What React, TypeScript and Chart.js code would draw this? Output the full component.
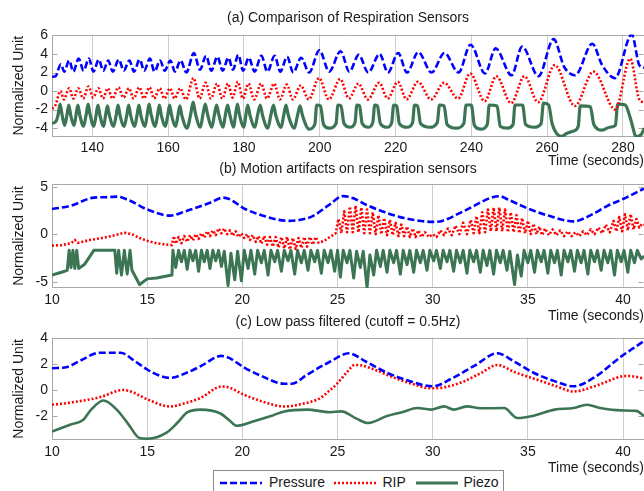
import React, { useEffect, useRef } from 'react';
import { Chart, registerables } from 'chart.js';

Chart.register(...registerables);

const FONT_FAMILY = "'Liberation Sans', Arial, Helvetica, sans-serif";
const TEXT_COLOR = '#1a1a1a';
const GRID_COLOR = '#cdcdcd';
const FRAME_COLOR = '#a8a8a8';
const BLUE = '#0000ff';
const RED = '#ff0000';
const GREEN = '#3b7554';

const SERIES_NAMES = ['Pressure', 'RIP', 'Piezo'];
const PANEL_TITLES = [
  '(a) Comparison of Respiration Sensors',
  '(b) Motion artifacts on respiration sensors',
  '(c) Low pass filtered (cutoff = 0.5Hz)',
];
const X_TITLE = 'Time (seconds)';
const Y_TITLE = 'Normalized Unit';

const xTicksA = [140, 160, 180, 200, 220, 240, 260, 280];
const xTicksBC = [10, 15, 20, 25, 30, 35, 40];
const yTicksA = [-4, -2, 0, 2, 4, 6];
const yTicksB = [-5, 0, 5];
const yTicksC = [-2, 0, 2, 4];

type P = [number, number][];

// ---------- Panel (a) ----------
const aPressure: P = [
  [129.4, 1.55], [130.3, 1.6], [131.7, 2.9], [132.6, 2.1], [133.9, 3.3], [135.0, 2.1], [136.4, 3.5], [137.7, 2.2],
  [139.1, 3.5], [140.3, 2.1], [141.7, 3.4], [142.9, 2.2], [144.2, 3.3], [145.4, 2.1], [147.0, 3.4], [148.3, 2.2],
  [149.8, 3.3], [151.0, 2.1], [152.5, 3.4], [153.7, 2.2], [155.2, 3.5], [156.4, 2.1], [157.9, 3.3], [159.1, 2.2],
  [160.6, 3.3], [161.8, 2.1], [163.3, 3.3], [164.8, 2.0], [166.8, 4.1], [168.4, 2.3], [170.0, 3.8], [171.4, 2.2],
  [173.0, 3.7], [174.4, 2.2], [175.9, 3.6], [177.1, 2.3], [178.5, 3.9], [179.8, 2.2], [181.3, 3.6], [182.8, 2.1],
  [184.6, 3.8], [186.2, 2.1], [188.1, 3.8], [189.6, 2.1], [191.4, 3.7], [193.0, 2.0], [195.1, 3.6], [197.2, 2.0],
  [199.9, 4.4], [202.5, 2.1], [205.5, 4.3], [207.8, 2.1], [210.3, 3.9], [212.8, 2.0], [215.8, 4.0], [218.0, 2.0],
  [220.7, 4.1], [223.0, 2.0], [226.0, 4.2], [229.5, 2.0], [232.9, 4.1], [236.6, 2.0], [239.8, 5.0], [243.6, 1.9],
  [246.4, 4.6], [250.6, 1.7], [253.4, 4.8], [257.7, 1.6], [261.7, 5.6], [264.5, 2.6], [267.4, 1.7], [271.9, 5.1],
  [274.5, 2.8], [277.9, 1.4], [282.3, 6.1], [284.3, 2.8], [285.6, 2.5],
];

const aRip: P = [
  [129.4, -1.9], [130.3, -1.5], [131.6, 0.0], [132.5, -0.9], [133.9, 0.3], [135.0, -0.8], [136.3, 0.3], [137.6, -0.8],
  [139.0, 0.5], [140.2, -0.7], [141.6, 0.3], [142.8, -0.8], [144.1, 0.3], [145.3, -0.8], [146.9, 0.4], [148.2, -0.7],
  [149.7, 0.3], [150.9, -0.8], [152.4, 0.4], [153.6, -0.8], [155.1, 0.4], [156.3, -0.8], [157.8, 0.3], [159.0, -0.8],
  [160.5, 0.3], [161.7, -0.8], [163.2, 0.3], [164.7, -0.9], [166.7, 1.4], [168.3, -0.8], [169.9, 0.9], [171.3, -0.8],
  [172.9, 0.8], [174.3, -0.8], [175.8, 0.8], [177.0, -0.7], [178.4, 1.0], [179.7, -0.8], [181.2, 0.8], [182.7, -0.9],
  [184.5, 0.8], [186.1, -0.8], [188.0, 0.8], [189.5, -0.9], [191.3, 0.7], [192.9, -0.9], [195.0, 0.6], [197.1, -0.9],
  [199.8, 1.4], [202.4, -0.9], [205.4, 1.3], [207.7, -0.8], [210.2, 0.8], [212.7, -0.9], [215.7, 0.9], [217.9, -0.8],
  [220.6, 1.0], [222.9, -0.9], [225.9, 1.0], [229.4, -0.9], [232.8, 0.9], [236.5, -0.8], [239.7, 1.9], [243.5, -1.1],
  [246.6, 1.6], [250.5, -1.3], [254.0, 1.6], [257.6, -1.2], [262.0, 2.8], [267.3, -1.6], [272.2, 2.1], [278.0, -2.0],
  [281.9, 3.5], [284.3, -0.9], [285.6, -1.2],
];

const aPiezo: P = [
  [129.4, -3.5], [130.5, -3.2],
  [131.0, -2.5], [131.5, -1.4], [132.0, -2.5], [132.7, -3.7],
  [133.3, -2.6], [133.8, -1.5], [134.3, -2.6], [135.2, -3.7],
  [135.7, -2.6], [136.2, -1.5], [136.7, -2.6], [137.7, -3.8],
  [138.4, -2.5], [138.9, -1.4], [139.4, -2.5], [140.4, -3.8],
  [141.0, -2.6], [141.5, -1.5], [142.0, -2.6], [143.0, -3.8],
  [143.5, -2.6], [144.0, -1.6], [144.5, -2.6], [145.6, -3.8],
  [146.3, -2.6], [146.8, -1.5], [147.3, -2.6], [148.4, -3.8],
  [149.1, -2.6], [149.6, -1.5], [150.1, -2.6], [151.2, -3.8],
  [151.8, -2.6], [152.3, -1.5], [152.8, -2.6], [153.9, -3.8],
  [154.5, -2.5], [155.0, -1.4], [155.5, -2.5], [156.6, -3.8],
  [157.2, -2.6], [157.7, -1.5], [158.2, -2.6], [159.3, -3.8],
  [159.9, -2.6], [160.4, -1.5], [160.9, -2.6], [162.0, -3.8],
  [162.6, -2.6], [163.1, -1.6], [163.6, -2.6], [165.0, -4.0],
  [166.0, -2.4], [166.6, -1.2], [167.2, -2.4], [168.5, -3.9],
  [169.2, -2.5], [169.8, -1.4], [170.4, -2.5], [171.5, -3.9],
  [172.2, -2.6], [172.8, -1.5], [173.4, -2.6], [174.5, -3.9],
  [175.1, -2.6], [175.7, -1.5], [176.3, -2.6], [177.3, -3.9],
  [177.8, -2.5], [178.3, -1.4], [178.8, -2.5], [180.0, -3.9],
  [180.5, -2.6], [181.0, -1.5], [181.6, -2.6], [182.9, -3.9],
  [183.6, -2.6], [184.3, -1.5], [184.9, -2.6], [186.3, -4.0],
  [187.1, -2.6], [187.8, -1.5], [188.4, -2.6], [189.8, -3.9],
  [190.5, -2.6], [191.1, -1.5], [191.7, -2.6], [193.3, -4.0],
  [194.1, -2.7], [194.8, -1.6], [195.5, -2.7], [197.2, -4.1],
  [198.7, -3.6], [199.2, -1.5], [200.2, -1.6], [201.0, -3.6], [202.5, -4.0],
  [204.3, -3.5], [204.8, -1.5], [205.6, -1.6], [206.4, -3.5], [208.0, -3.9],
  [209.3, -3.4], [209.8, -1.5], [210.5, -1.6], [211.2, -3.5], [212.8, -3.9],
  [214.0, -3.4], [214.5, -1.5], [215.2, -1.6], [216.0, -3.5], [217.8, -3.9],
  [219.0, -3.4], [219.5, -1.5], [220.3, -1.6], [221.0, -3.5], [223.0, -3.9],
  [224.5, -3.4], [225.0, -1.5], [225.8, -1.6], [226.6, -3.5], [229.0, -3.9],
  [231.0, -3.4], [231.6, -1.5], [232.8, -1.6], [233.6, -3.6], [236.0, -4.0],
  [238.0, -3.5], [238.6, -1.5], [240.0, -1.5], [240.8, -3.7], [242.5, -4.1],
  [244.2, -3.6], [244.7, -1.5], [246.8, -1.6], [247.6, -3.8], [249.5, -4.0],
  [251.0, -3.6], [251.5, -1.5], [253.5, -1.5], [254.3, -3.6], [256.5, -3.9],
  [258.4, -3.5], [259.0, -1.3], [260.4, -1.5], [261.3, -3.5], [263.8, -4.9],
  [265.0, -4.6], [267.0, -4.3],
  [268.2, -3.8], [268.7, -1.6], [271.4, -1.7], [272.3, -3.6], [274.5, -4.2],
  [276.5, -3.9],
  [278.0, -3.7], [278.6, -1.4], [280.6, -1.5], [282.0, -3.0], [283.5, -4.9],
  [284.8, -4.7], [285.6, -4.0],
];

// ---------- Panel (b) ----------
const bPressure: P = [
  [10.0, 2.65], [11.0, 3.0], [12.2, 3.85], [13.0, 3.9], [13.4, 3.95], [14.0, 3.6], [15.0, 2.6], [16.2, 1.95],
  [17.0, 2.4], [18.3, 3.3], [19.0, 3.85], [20.2, 2.6], [21.0, 2.0], [22.4, 1.4], [23.0, 1.5], [23.7, 1.9],
  [24.5, 3.0], [25.3, 4.0], [25.8, 3.8], [26.5, 3.1], [27.5, 2.3], [28.5, 1.7], [30.0, 1.3], [30.5, 1.4],
  [31.5, 2.3], [32.2, 3.0], [33.0, 3.8], [33.5, 4.0], [34.0, 3.6], [35.0, 2.7], [36.0, 2.0], [37.4, 1.35],
  [38.3, 2.0], [39.2, 3.0], [40.0, 3.7], [41.1, 4.8],
];

const bRip: P = [
  [10.0, -1.2], [10.5, -1.15], [11.0, -0.95], [11.2, -0.6], [11.35, -0.9], [11.6, -0.8], [12.0, -0.6], [12.5, -0.45],
  [13.0, -0.25], [13.5, 0.0], [13.8, 0.15], [14.2, 0.0], [14.6, -0.4], [15.0, -0.7], [15.5, -0.95], [16.0, -1.1],
  [16.3, -1.15], [16.4, -0.2], [16.5, -1.0], [16.65, -0.3], [16.8, -0.95], [16.95, -0.2], [17.1, -0.8], [17.25, -0.1],
  [17.4, -0.65], [17.55, 0.0], [17.7, -0.5], [17.85, 0.1], [18.0, -0.35], [18.15, 0.3], [18.3, -0.2], [18.45, 0.4],
  [18.6, -0.1], [18.75, 0.6], [18.9, 0.1], [19.05, 0.6], [19.2, 0.0], [19.35, 0.4], [19.5, -0.15], [19.65, 0.3],
  [19.8, -0.3], [19.95, 0.1], [20.1, -0.4], [20.25, 0.0], [20.4, -0.6], [20.55, -0.1], [20.7, -0.8], [20.85, -0.2],
  [21.0, -1.0], [21.15, -0.2], [21.3, -1.1], [21.45, -0.3], [21.6, -1.3], [21.75, -0.3], [21.9, -1.4], [22.05, -0.3],
  [22.2, -1.5], [22.35, -0.3], [22.5, -1.6], [22.65, -0.4], [22.8, -1.55], [22.95, -0.4], [23.1, -1.45], [23.25, -0.3],
  [23.4, -1.3], [23.55, -0.3], [23.7, -1.1], [23.85, -0.3], [24.0, -0.9], [24.3, -0.7], [24.6, -0.3], [24.9, 0.1],
  [25.05, 1.6], [25.2, 0.1], [25.35, 2.4], [25.5, 0.2], [25.65, 2.9], [25.8, 0.2], [25.95, 3.0], [26.1, 0.2],
  [26.25, 2.8], [26.4, 0.1], [26.55, 2.6], [26.7, 0.1], [26.85, 2.3], [27.0, 0.0], [27.15, 2.0], [27.3, 0.0],
  [27.45, 1.7], [27.6, -0.1], [27.75, 1.5], [27.9, -0.1], [28.05, 1.2], [28.2, -0.2], [28.35, 1.0], [28.5, -0.2],
  [28.65, 0.8], [28.8, -0.3], [28.95, 0.6], [29.1, -0.3], [29.25, 0.4], [29.4, -0.3], [29.6, 0.2], [29.8, -0.3],
  [30.0, 0.0], [30.2, -0.3], [30.4, 0.4], [30.6, -0.1], [30.8, 0.6], [31.0, -0.1], [31.2, 0.9], [31.4, 0.0],
  [31.6, 1.2], [31.8, 0.0], [32.0, 1.5], [32.15, 0.1], [32.3, 1.9], [32.45, 0.1], [32.6, 2.3], [32.75, 0.2],
  [32.9, 2.6], [33.05, 0.3], [33.2, 2.8], [33.35, 0.3], [33.5, 2.8], [33.65, 0.3], [33.8, 2.6], [33.95, 0.2],
  [34.1, 2.3], [34.25, 0.2], [34.4, 2.0], [34.55, 0.1], [34.7, 1.7], [34.85, 0.1], [35.0, 1.4], [35.15, 0.0],
  [35.3, 1.1], [35.45, 0.0], [35.6, 0.8], [35.75, -0.1], [35.9, 0.6], [36.1, -0.1], [36.3, 0.5], [36.5, -0.1],
  [36.7, 0.4], [36.9, -0.2], [37.1, 0.3], [37.3, -0.2], [37.5, 0.2], [37.7, -0.2], [37.9, 0.3], [38.1, -0.1],
  [38.3, 0.5], [38.5, 0.0], [38.7, 0.7], [38.9, 0.1], [39.1, 1.0], [39.3, 0.2], [39.5, 1.4], [39.65, 0.3],
  [39.8, 1.8], [39.95, 0.3], [40.1, 2.1], [40.25, 0.4], [40.4, 2.1], [40.55, 0.5], [40.7, 1.6], [40.85, 0.7],
  [41.0, 1.1], [41.1, 1.0],
];

const bPiezo: P = [
  [10.0, -4.3], [10.5, -4.0], [10.8, -3.8], [10.9, -1.7], [11.0, -3.5], [11.1, -1.7], [11.2, -3.6], [11.3, -1.7],
  [11.4, -3.6], [11.7, -3.2], [12.2, -1.7], [13.3, -1.7], [13.4, -4.1], [13.5, -1.7], [13.65, -4.3], [13.8, -1.7],
  [13.95, -4.2], [14.1, -1.7], [14.2, -3.8], [14.6, -5.3], [15.0, -4.7], [15.5, -4.6], [16.3, -4.3], [16.35, -1.7],
  [16.5, -3.5], [16.65, -1.7], [16.8, -2.9], [16.95, -1.7], [17.1, -3.7], [17.25, -1.7], [17.4, -2.8], [17.55, -1.7],
  [17.7, -3.9], [17.85, -1.7], [18.0, -2.9], [18.15, -1.7], [18.3, -3.6], [18.45, -1.7], [18.6, -2.8], [18.75, -1.7],
  [18.9, -3.4], [19.05, -1.8], [19.25, -5.4], [19.4, -2.0], [19.6, -4.8], [19.75, -1.8], [19.95, -4.9], [20.1, -1.7],
  [20.3, -3.6], [20.45, -1.7], [20.65, -4.2], [20.8, -1.7], [21.0, -3.0], [21.15, -1.7], [21.35, -4.3], [21.5, -1.7],
  [21.7, -2.9], [21.85, -1.7], [22.05, -3.9], [22.2, -1.7], [22.4, -2.8], [22.55, -1.7], [22.75, -4.2], [22.9, -1.7],
  [23.1, -3.0], [23.25, -1.7], [23.45, -3.8], [23.6, -1.7], [23.8, -2.9], [23.95, -1.7], [24.15, -4.1], [24.3, -1.7],
  [24.5, -3.0], [24.65, -1.7], [24.85, -3.9], [25.0, -1.7], [25.15, -4.5], [25.3, -1.7], [25.5, -3.0], [25.65, -1.7],
  [25.85, -4.6], [26.0, -1.8], [26.2, -3.5], [26.35, -1.8], [26.55, -5.6], [26.7, -2.2], [26.9, -4.3], [27.05, -1.7],
  [27.25, -3.4], [27.4, -1.7], [27.6, -4.0], [27.75, -1.7], [27.95, -3.0], [28.1, -1.7], [28.3, -4.2], [28.45, -1.7],
  [28.65, -3.2], [28.8, -1.7], [29.0, -4.0], [29.15, -1.7], [29.35, -3.0], [29.5, -1.7], [29.7, -3.8], [29.85, -1.7],
  [30.05, -2.8], [30.2, -1.7], [30.4, -3.6], [30.55, -1.7], [30.75, -2.9], [30.9, -1.7], [31.1, -3.9], [31.25, -1.7],
  [31.45, -3.0], [31.6, -1.7], [31.8, -4.1], [31.95, -1.7], [32.15, -2.9], [32.3, -1.7], [32.5, -4.0], [32.65, -1.7],
  [32.85, -3.3], [33.0, -1.7], [33.2, -4.2], [33.35, -1.7], [33.55, -3.0], [33.7, -1.7], [33.9, -3.8], [34.05, -1.8],
  [34.3, -5.3], [34.45, -2.2], [34.65, -4.4], [34.8, -1.7], [35.0, -3.0], [35.15, -1.7], [35.35, -4.0], [35.5, -1.7],
  [35.7, -2.9], [35.85, -1.7], [36.05, -4.1], [36.2, -1.7], [36.4, -3.0], [36.55, -1.7], [36.75, -4.3], [36.9, -1.7],
  [37.1, -2.9], [37.25, -1.7], [37.45, -3.9], [37.6, -1.7], [37.8, -3.0], [37.95, -1.7], [38.15, -4.2], [38.3, -1.7],
  [38.5, -2.9], [38.65, -1.7], [38.85, -3.8], [39.0, -1.7], [39.2, -3.0], [39.35, -1.7], [39.55, -4.3], [39.7, -1.7],
  [39.9, -2.9], [40.05, -1.7], [40.25, -4.0], [40.4, -1.7], [40.6, -3.0], [40.75, -1.7], [40.95, -2.6], [41.1, -2.3],
];

// ---------- Panel (c) ----------
const cPressure: P = [
  [10.0, 1.7], [10.8, 1.8], [11.5, 2.3], [12.5, 2.9], [13.6, 2.9], [14.3, 2.3], [15.0, 1.6], [15.6, 1.15],
  [16.2, 0.95], [17.0, 1.3], [17.8, 1.85], [18.9, 2.65], [19.3, 2.5], [20.1, 1.75], [21.0, 1.1], [22.2, 0.5],
  [22.6, 0.5], [23.4, 1.2], [24.6, 2.2], [25.6, 2.85], [26.5, 2.2], [27.6, 1.35], [28.8, 0.7], [30.0, 0.3],
  [31.0, 0.9], [32.2, 1.9], [33.4, 2.85], [34.3, 2.2], [35.3, 1.35], [36.4, 0.7], [37.4, 0.3], [38.5, 1.0],
  [39.9, 2.6], [41.1, 3.8],
];

const cRip: P = [
  [10.0, -1.13], [11.0, -0.95], [12.5, -0.55], [13.75, 0.02], [14.3, -0.2], [15.0, -0.7], [16.2, -1.26], [17.0, -1.0],
  [17.8, -0.6], [18.9, 0.28], [19.2, 0.25], [20.1, -0.36], [21.0, -0.85], [22.2, -1.26], [23.0, -1.1], [24.1, -0.6],
  [24.6, 0.0], [25.0, 0.54], [25.5, 1.4], [25.9, 1.95], [26.3, 1.9], [27.1, 1.5], [28.0, 0.95], [29.0, 0.45],
  [29.9, 0.15], [30.5, 0.2], [31.5, 0.6], [32.5, 1.3], [33.4, 1.95], [34.3, 1.4], [35.5, 0.8], [36.5, 0.3],
  [37.4, -0.1], [38.5, 0.3], [39.9, 1.05], [40.3, 1.1], [41.1, 0.9],
];

const cPiezo: P = [
  [10.0, -3.2], [10.95, -2.67], [11.65, -2.28], [12.0, -1.6], [12.7, -0.8], [13.4, -1.5], [14.0, -2.6], [14.6, -3.7],
  [15.0, -3.75], [16.0, -3.3], [16.6, -2.5], [17.1, -1.72], [17.8, -1.5], [18.85, -1.8], [19.3, -2.3], [19.7, -2.75],
  [20.6, -2.4], [21.5, -2.0], [22.2, -1.64], [23.4, -1.5], [24.6, -1.7], [25.2, -1.64], [26.0, -2.2], [26.6, -2.54],
  [27.6, -2.0], [28.4, -1.7], [29.2, -1.38], [29.9, -1.5], [30.6, -1.25], [31.1, -1.5], [31.8, -1.25], [32.5, -1.4],
  [33.75, -1.38], [34.45, -2.15], [35.3, -1.97], [36.4, -1.5], [37.4, -1.38], [38.1, -1.13], [38.8, -1.38], [39.9, -1.56],
  [40.7, -1.6], [41.1, -2.0],
];

const STYLES = [
  { color: BLUE, dash: [7, 3], width: 2.6 },
  { color: RED, dash: [2, 2], width: 2.6 },
  { color: GREEN, dash: [] as number[], width: 3 },
];

type PanelCfg = {
  top: number;
  height: number;
  title: string;
  titlePad: { top: number; bottom: number };
  xMin: number;
  xMax: number;
  xTicks: number[];
  yMin: number;
  yMax: number;
  yTicks: number[];
  xAxisHeight: number;
  xTickPad: number;
  xTitlePad: number;
  series: P[];
  smooth: boolean[];
  widths: number[];
};

const PANELS: PanelCfg[] = [
  {
    top: 0, height: 170, title: PANEL_TITLES[0], titlePad: { top: 10, bottom: 7.7 },
    xMin: 129.37, xMax: 285.54, xTicks: xTicksA, yMin: -4.95, yMax: 6.1, yTicks: yTicksA,
    xAxisHeight: 33, xTickPad: 3, xTitlePad: 0.6,
    series: [aPressure, aRip, aPiezo], smooth: [true, true, true], widths: [2.6, 2.6, 3.2],
  },
  {
    top: 150, height: 175, title: PANEL_TITLES[1], titlePad: { top: 10.6, bottom: 6.6 },
    xMin: 10, xMax: 41.1, xTicks: xTicksBC, yMin: -5.66, yMax: 5.28, yTicks: yTicksB,
    xAxisHeight: 37, xTickPad: 4, xTitlePad: 0,
    series: [bPressure, bRip, bPiezo], smooth: [true, false, false], widths: [2.6, 2.6, 3],
  },
  {
    top: 304, height: 173, title: PANEL_TITLES[2], titlePad: { top: 10.1, bottom: 6.9 },
    xMin: 10, xMax: 41.1, xTicks: xTicksBC, yMin: -3.85, yMax: 4.05, yTicks: yTicksC,
    xAxisHeight: 37, xTickPad: 3.3, xTitlePad: 0.3,
    series: [cPressure, cRip, cPiezo], smooth: [true, true, true], widths: [2.6, 2.6, 2.6],
  },
];

const framePlugin = {
  id: 'matlabFrame',
  beforeDatasetsDraw(chart: any) {
    const { ctx, chartArea } = chart;
    const y = chart.scales.y;
    const l = Math.round(chartArea.left) + 0.5;
    const t = Math.round(chartArea.top) + 0.5;
    const b = Math.round(chartArea.bottom) - 0.5;
    const r = Math.round(chartArea.right) - 0.5;
    ctx.save();
    ctx.strokeStyle = FRAME_COLOR;
    ctx.lineWidth = 1;
    ctx.setLineDash([]);
    ctx.beginPath();
    ctx.moveTo(r + 1, t);
    ctx.lineTo(l, t);
    ctx.lineTo(l, b);
    ctx.lineTo(r + 1, b);
    y.ticks.forEach((tk: any) => {
      const py = Math.round(y.getPixelForValue(tk.value)) + 0.5;
      ctx.moveTo(l, py);
      ctx.lineTo(l + 5, py);
      ctx.moveTo(r, py);
      ctx.lineTo(r - 5, py);
    });
    ctx.stroke();
    ctx.restore();
  },
};

const font = { family: FONT_FAMILY, size: 14, weight: 'normal' as const, lineHeight: 1.2 };

function buildConfig(p: PanelCfg): any {
  return {
    type: 'line',
    data: {
      datasets: p.series.map((s, i) => ({
        label: SERIES_NAMES[i],
        data: s.map(([x, y]) => ({ x, y })),
        borderColor: STYLES[i].color,
        backgroundColor: STYLES[i].color,
        borderWidth: p.widths[i],
        borderDash: STYLES[i].dash,
        borderCapStyle: 'butt',
        borderJoinStyle: 'round',
        pointRadius: 0,
        pointHoverRadius: 0,
        fill: false,
        tension: 0,
        cubicInterpolationMode: p.smooth[i] ? 'monotone' : 'default',
      })),
    },
    options: {
      responsive: false,
      maintainAspectRatio: false,
      animation: false,
      parsing: false,
      events: [],
      layout: { padding: 0 },
      plugins: {
        legend: { display: false },
        tooltip: { enabled: false },
        title: {
          display: true,
          text: p.title,
          color: TEXT_COLOR,
          font,
          padding: p.titlePad,
          fullSize: false,
        },
      },
      scales: {
        x: {
          type: 'linear',
          position: 'bottom',
          min: p.xMin,
          max: p.xMax,
          afterBuildTicks: (s: any) => {
            s.ticks = p.xTicks.map((v) => ({ value: v }));
          },
          afterFit: (s: any) => {
            s.height = p.xAxisHeight;
          },
          ticks: {
            color: TEXT_COLOR,
            font,
            padding: p.xTickPad,
            maxRotation: 0,
            autoSkip: false,
            callback: (v: any) => String(v),
          },
          grid: { display: true, color: GRID_COLOR, lineWidth: 1, drawTicks: false },
          border: { display: false },
          title: {
            display: true,
            text: X_TITLE,
            align: 'end',
            color: TEXT_COLOR,
            font,
            padding: { top: 0, bottom: p.xTitlePad },
          },
        },
        y: {
          type: 'linear',
          position: 'left',
          min: p.yMin,
          max: p.yMax,
          afterBuildTicks: (s: any) => {
            s.ticks = p.yTicks.map((v) => ({ value: v }));
          },
          afterFit: (s: any) => {
            s.width = 52;
          },
          ticks: {
            color: TEXT_COLOR,
            font,
            padding: 4,
            callback: (v: any) => String(v),
          },
          grid: { display: false, drawTicks: false },
          border: { display: false },
          title: {
            display: true,
            text: Y_TITLE,
            color: TEXT_COLOR,
            font,
            padding: { top: 10.6, bottom: 0 },
          },
        },
      },
    },
    plugins: [framePlugin],
  };
}

function Panel({ cfg }: { cfg: PanelCfg }) {
  const ref = useRef<HTMLCanvasElement | null>(null);
  useEffect(() => {
    if (!ref.current) return;
    const chart = new Chart(ref.current, buildConfig(cfg));
    return () => chart.destroy();
  }, [cfg]);
  return (
    <canvas
      ref={ref}
      width={644}
      height={cfg.height}
      style={{ position: 'absolute', left: 0, top: cfg.top, width: 644, height: cfg.height }}
    />
  );
}

const LEGEND_LINES = [
  { x1: 6, x2: 48, dash: '7 3' },
  { x1: 120, x2: 162, dash: '2 2' },
  { x1: 202, x2: 244, dash: '' },
];
const LEGEND_TEXT_LEFT = [55, 168.5, 249.5];

function Legend() {
  const lineY = 12;
  return (
    <div
      style={{
        position: 'absolute',
        left: 213,
        top: 470,
        width: 291,
        height: 40,
        border: '1px solid #8a8a8a',
        background: '#fff',
        boxSizing: 'border-box',
        zIndex: 5,
      }}
    >
      <svg width={289} height={24} style={{ position: 'absolute', left: 0, top: 0 }}>
        {LEGEND_LINES.map((it, i) => (
          <line
            key={i}
            x1={it.x1}
            x2={it.x2}
            y1={lineY}
            y2={lineY}
            stroke={STYLES[i].color}
            strokeWidth={i === 2 ? 3 : 2.6}
            strokeDasharray={it.dash || undefined}
          />
        ))}
      </svg>
      {SERIES_NAMES.map((name, i) => (
        <span
          key={name}
          style={{
            position: 'absolute',
            left: LEGEND_TEXT_LEFT[i],
            top: 3,
            fontFamily: FONT_FAMILY,
            fontSize: 14,
            lineHeight: '17px',
            color: TEXT_COLOR,
            whiteSpace: 'nowrap',
          }}
        >
          {name}
        </span>
      ))}
    </div>
  );
}

export default function App() {
  return (
    <div
      style={{
        position: 'fixed',
        left: 0,
        top: 0,
        width: 644,
        height: 491,
        overflow: 'hidden',
        background: '#fff',
      }}
    >
      {PANELS.map((p, i) => (
        <Panel key={i} cfg={p} />
      ))}
      <Legend />
    </div>
  );
}
